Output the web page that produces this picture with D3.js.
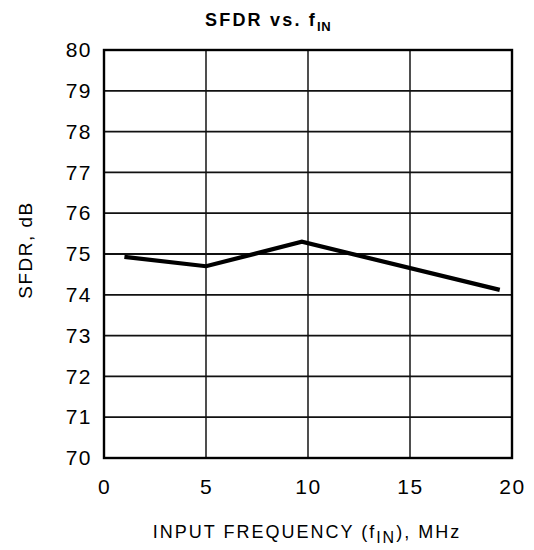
<!DOCTYPE html>
<html><head><meta charset="utf-8">
<script src="https://cdn.jsdelivr.net/npm/d3@7"></script>
<style>body{margin:0;background:#fff}svg{display:block}</style>
</head><body>
<svg id="c" width="534" height="550"></svg>
<script>
const freqMHz = [1, 5, 9.7, 19.4];
const sfdrDb = [74.93, 74.7, 75.3, 74.12];
const xTicks = [0, 5, 10, 15, 20];
const yTicks = [70, 71, 72, 73, 74, 75, 76, 77, 78, 79, 80];

const svg = d3.select("#c");
const L = 104, R = 512, T = 50, B = 458;
const x = d3.scaleLinear().domain([0, 20]).range([L, R]);
const y = d3.scaleLinear().domain([70, 80]).range([B, T]);
const FF = "Liberation Sans, Arial, sans-serif";

// grid
svg.append("g").selectAll("line").data(xTicks.slice(1, -1)).join("line")
  .attr("x1", d => x(d)).attr("x2", d => x(d)).attr("y1", T).attr("y2", B)
  .attr("stroke", "#222").attr("stroke-width", 1.6);
svg.append("g").selectAll("line").data(yTicks.slice(1, -1)).join("line")
  .attr("y1", d => y(d)).attr("y2", d => y(d)).attr("x1", L).attr("x2", R)
  .attr("stroke", "#111").attr("stroke-width", 1.8);
svg.append("rect").attr("x", L).attr("y", T).attr("width", R - L).attr("height", B - T)
  .attr("fill", "none").attr("stroke", "#000").attr("stroke-width", 2.4);

// axes labels via d3 axes
const xa = svg.append("g").attr("transform", `translate(0,${B})`)
  .call(d3.axisBottom(x).tickValues(xTicks).tickSize(0).tickPadding(21));
const ya = svg.append("g").attr("transform", `translate(${L},0)`)
  .call(d3.axisLeft(y).tickValues(yTicks).tickSize(0).tickPadding(12));
[xa, ya].forEach(a => {
  a.select(".domain").remove();
  a.selectAll("text").attr("font-family", FF)
    .attr("font-size", 21).attr("fill", "#000").attr("letter-spacing", "1.5px");
});

// line
svg.append("path").datum(freqMHz.map((f, i) => [f, sfdrDb[i]]))
  .attr("d", d3.line().x(d => x(d[0])).y(d => y(d[1])))
  .attr("fill", "none").attr("stroke", "#000").attr("stroke-width", 4.2)
  .attr("stroke-linejoin", "miter");

// title
const t = svg.append("text").attr("x", 205).attr("y", 26).attr("text-anchor", "start")
  .attr("font-family", FF).attr("font-weight", "bold")
  .attr("font-size", 18).attr("letter-spacing", "2.2px");
t.append("tspan").text("SFDR vs. f");
t.append("tspan").attr("font-size", 13).attr("dy", 5).attr("letter-spacing", "0.5px").text("IN");

// x label
const xl = svg.append("text").attr("x", 307).attr("y", 538).attr("text-anchor", "middle")
  .attr("font-family", FF).attr("font-size", 18)
  .attr("letter-spacing", "2px");
xl.append("tspan").text("INPUT FREQUENCY (f");
xl.append("tspan").attr("dy", 5).attr("font-size", 16).text("IN");
xl.append("tspan").attr("dy", -5).text("), MHz");

// y label
svg.append("text").attr("transform", "translate(32,250) rotate(-90)").attr("text-anchor", "middle")
  .attr("font-family", FF).attr("font-size", 19)
  .attr("letter-spacing", "1.5px").text("SFDR, dB");
</script>
</body></html>
